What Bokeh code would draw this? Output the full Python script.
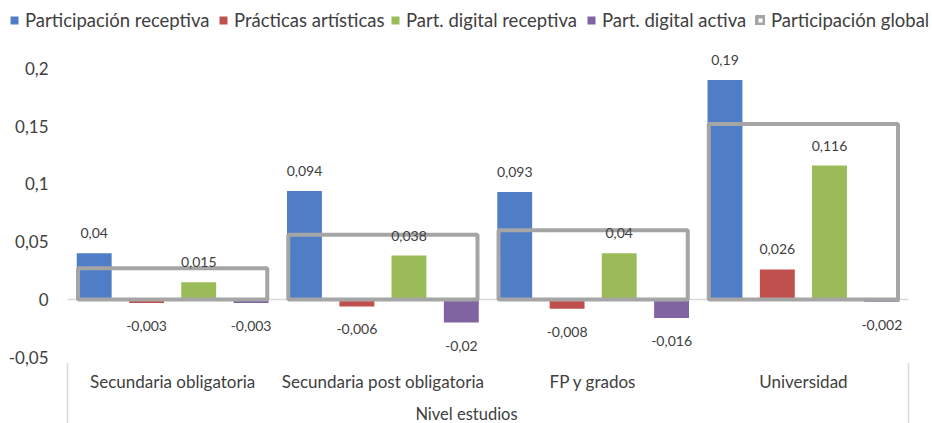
from bokeh.plotting import figure
from bokeh.models import (ColumnDataSource, Range1d, Legend, LegendItem, FixedTicker)
from bokeh.core.properties import value
from bokeh.embed import file_html
from bokeh.resources import INLINE

categories = ["Secundaria obligatoria", "Secundaria post obligatoria", "FP y grados", "Universidad"]
series_names = ["Participación receptiva", "Prácticas artísticas", "Part. digital receptiva",
                "Part. digital activa", "Participación global"]
part_receptiva = [0.04, 0.094, 0.093, 0.19]
practicas_artisticas = [-0.003, -0.006, -0.008, 0.026]
digital_receptiva = [0.015, 0.038, 0.04, 0.116]
digital_activa = [-0.003, -0.02, -0.016, -0.002]
part_global = [0.027, 0.056, 0.060, 0.152]
y_ticks = [-0.05, 0, 0.05, 0.1, 0.15, 0.2]
y_tick_labels = ["-0,05", "0", "0,05", "0,1", "0,15", "0,2"]
x_axis_title = "Nivel estudios"

colors = ["#4F7EC7", "#C0504D", "#9BBB59", "#8064A2"]
global_color = "#A5A5A5"
FONT = "Lato"
TXT = "#404040"
W, H = 932, 423
legend_x = [9, 218, 390, 586, 755]   # screen px of each legend entry
legend_y = 392

n = len(categories)
centers = [i + 0.5 for i in range(n)]
Y_MIN_AXIS = y_ticks[0]

p = figure(width=W, height=H, x_range=Range1d(-0.3187, n + 0.114), y_range=Range1d(-0.1074, 0.2589),
           output_backend="svg", toolbar_location=None,
           min_border_left=0, min_border_right=0, min_border_top=0, min_border_bottom=0)
p.outline_line_color = None
p.xgrid.visible = False
p.ygrid.visible = False

# zero line across the category area
p.segment(x0=[0], x1=[n], y0=[0], y1=[0], line_color="#D9D9D9", line_width=1.5)
# category axis outer separators
p.segment(x0=[0, n], x1=[0, n], y0=[Y_MIN_AXIS - 0.005] * 2, y1=[-0.2] * 2,
          line_color="#D9D9D9", line_width=1.5)

offsets = [-0.373, -0.124, 0.124, 0.373]
series = [part_receptiva, practicas_artisticas, digital_receptiva, digital_activa]
renderers = []
label_data = []
for vals, off, col in zip(series, offsets, colors):
    xs = [c + off for c in centers]
    src = ColumnDataSource(dict(x=xs, val=vals, zero=[0] * n))
    r = p.vbar(x="x", top="val", bottom="zero", width=0.166,
               source=src, fill_color=col, line_color=None)
    renderers.append(r)
    label_data.append((xs, vals))

gsrc = ColumnDataSource(dict(x=centers, val=part_global, zero=[0] * n))
rg = p.vbar(x="x", top="val", bottom="zero", width=0.9, source=gsrc,
            fill_color=None, line_color=global_color, line_width=4)
renderers.append(rg)

for xs, vals in label_data:
    for sign, base, yoff in ((1, "bottom", -15), (-1, "top", 18)):
        idx = [i for i, v in enumerate(vals) if (v >= 0) == (sign > 0)]
        if not idx:
            continue
        s = ColumnDataSource(dict(x=[xs[i] for i in idx], val=[vals[i] for i in idx],
                                  lab=[str(vals[i]).replace(".", ",") for i in idx]))
        p.text(x="x", y="val", text="lab", source=s,
               text_align="center", text_baseline=base, y_offset=yoff,
               text_font=value(FONT), text_font_size="14px", text_color=TXT)

for name, r, lx in zip(series_names, renderers, legend_x):
    lg = Legend(items=[LegendItem(label=name, renderers=[r])], location=(lx, legend_y),
                label_text_font=FONT, label_text_font_size="18.5px", label_text_color=TXT,
                glyph_width=10, glyph_height=10, label_standoff=6,
                padding=0, margin=0, border_line_color=None, background_fill_alpha=0)
    p.add_layout(lg, "center")

p.yaxis.fixed_location = 0
p.yaxis.ticker = FixedTicker(ticks=y_ticks)
p.yaxis.major_label_overrides = {t: l for t, l in zip(y_ticks, y_tick_labels)}
p.yaxis.axis_line_color = None
p.yaxis.major_tick_line_color = None
p.yaxis.minor_tick_line_color = None
p.yaxis.major_tick_out = 0
p.yaxis.major_label_standoff = 19
p.yaxis.major_label_text_font = FONT
p.yaxis.major_label_text_font_size = "17px"
p.yaxis.major_label_text_color = TXT

p.xaxis.fixed_location = Y_MIN_AXIS
p.xaxis.ticker = FixedTicker(ticks=centers)
p.xaxis.major_label_overrides = {c: name for c, name in zip(centers, categories)}
p.xaxis.axis_line_color = None
p.xaxis.major_tick_line_color = None
p.xaxis.minor_tick_line_color = None
p.xaxis.major_tick_out = 0
p.xaxis.major_label_standoff = 14
p.xaxis.major_label_text_font = FONT
p.xaxis.major_label_text_font_size = "17px"
p.xaxis.major_label_text_color = TXT
p.xaxis.axis_label = x_axis_title
p.xaxis.axis_label_standoff = 8
p.xaxis.axis_label_text_font = FONT
p.xaxis.axis_label_text_font_size = "16.5px"
p.xaxis.axis_label_text_font_style = "normal"
p.xaxis.axis_label_text_color = TXT

open("out.html", "w").write(file_html(p, INLINE))
